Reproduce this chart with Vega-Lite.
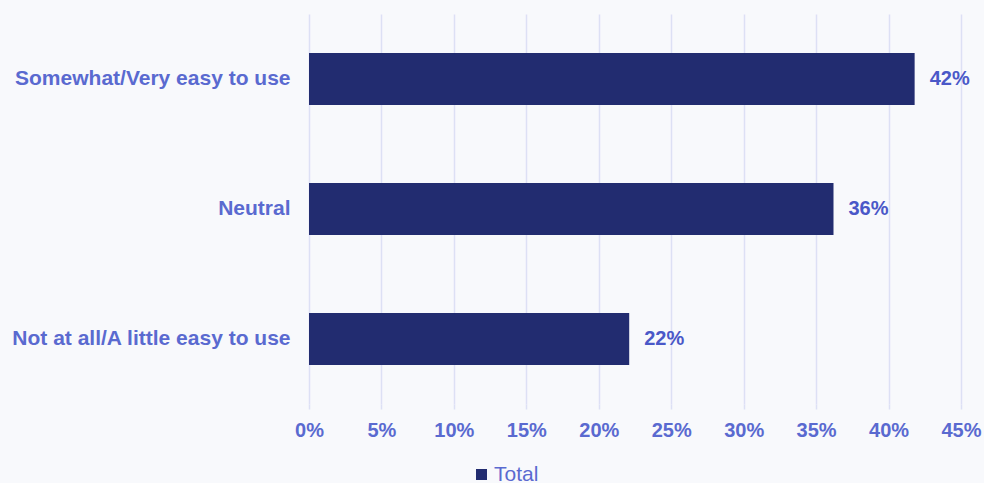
{
  "$schema": "https://vega.github.io/schema/vega-lite/v6.json",
  "width": 652,
  "height": 390,
  "autosize": "none",
  "padding": {"left": 309, "top": 14, "right": 23, "bottom": 79},
  "background": "#f8f9fc",
  "config": {
    "view": {"stroke": null},
    "font": "Liberation Sans"
  },
  "data": {
    "values": [
      {"category": "Somewhat/Very easy to use", "value": 0.418, "series": "Total"},
      {"category": "Neutral", "value": 0.362, "series": "Total"},
      {"category": "Not at all/A little easy to use", "value": 0.221, "series": "Total"}
    ]
  },
  "encoding": {
    "y": {
      "field": "category",
      "type": "nominal",
      "sort": null,
      "scale": {"paddingInner": 0.6, "paddingOuter": 0.3},
      "axis": {
        "title": null,
        "domain": false,
        "ticks": false,
        "labelFontSize": 21,
        "labelFontWeight": "bold",
        "labelColor": "#5a6ad0",
        "labelPadding": 19,
        "labelLimit": 320
      }
    },
    "x": {
      "field": "value",
      "type": "quantitative",
      "scale": {"domain": [0, 0.45]},
      "axis": {
        "title": null,
        "values": [0, 0.05, 0.1, 0.15, 0.2, 0.25, 0.3, 0.35, 0.4, 0.45],
        "format": ".0%",
        "domain": false,
        "ticks": true,
        "tickSize": 5,
        "tickColor": "#dde0f5",
        "tickWidth": 1.5,
        "grid": true,
        "gridColor": "#dde0f5",
        "gridWidth": 1.5,
        "labelFontSize": 20,
        "labelFontWeight": "bold",
        "labelColor": "#5a6ad0",
        "labelPadding": 11,
        "labelFlush": false
      }
    }
  },
  "layer": [
    {
      "mark": {"type": "bar"},
      "encoding": {
        "color": {
          "field": "series",
          "type": "nominal",
          "scale": {"range": ["#222c70"]},
          "legend": {
            "title": null,
            "orient": "none",
            "legendX": 162,
            "legendY": 450,
            "symbolType": "square",
            "symbolSize": 121,
            "symbolStrokeWidth": 0,
            "labelFontSize": 21,
            "labelColor": "#5a6ad0",
            "labelFont": "Liberation Sans",
            "labelOffset": 2
          }
        }
      }
    },
    {
      "mark": {
        "type": "text",
        "align": "left",
        "baseline": "middle",
        "dx": 15,
        "fontSize": 20,
        "fontWeight": "bold",
        "color": "#4a58c8"
      },
      "encoding": {
        "text": {"field": "value", "type": "quantitative", "format": ".0%"}
      }
    }
  ]
}
